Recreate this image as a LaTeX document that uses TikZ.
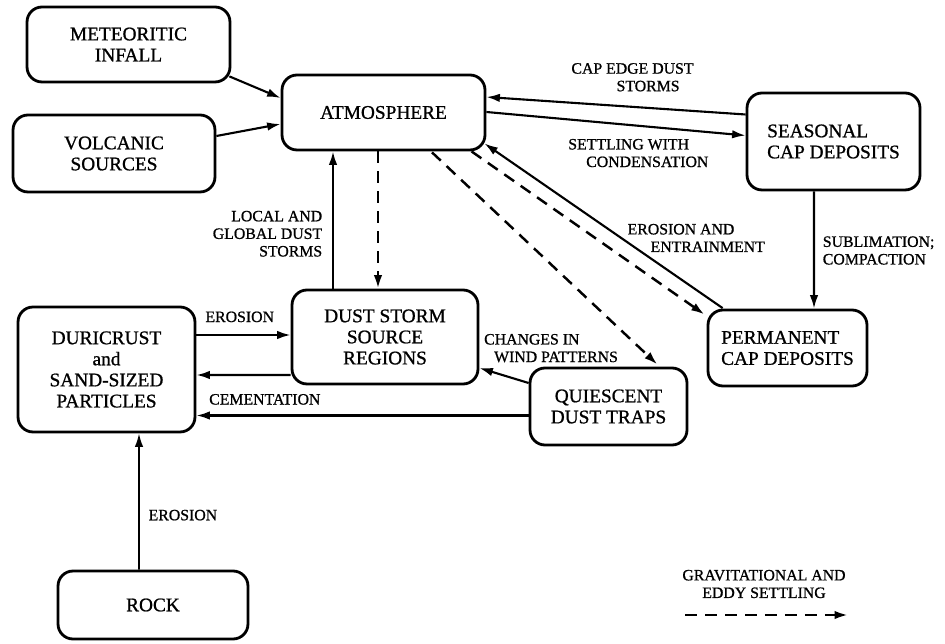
\documentclass[tikz,border=0pt]{standalone}
\usepackage{fontspec}
\setmainfont[FakeBold=0.9]{Liberation Serif}
\usetikzlibrary{arrows.meta, positioning}

\begin{document}
\begin{tikzpicture}[
    x=0.02cm, y=-0.02cm,
    box/.style={draw, line width=1.6pt, rounded corners=3mm, align=center, inner sep=0pt, font=\fontsize{11}{12}\selectfont},
    lbl/.style={font=\fontsize{9}{10}\selectfont, inner sep=1pt},
    arrow/.style={-{Latex[length=2.7mm, width=1.7mm]}, line width=1.2pt},
    settle/.style={arrow, line width=1.4pt, dash pattern=on 2.4mm off 1.6mm}
]
    \useasboundingbox (0,0) rectangle (945,644);

    % Boxes
    \node[box, minimum width=4.06cm, minimum height=1.5cm] (meteor) at (128.5,44.5) {METEORITIC\\INFALL};
    \node[box, minimum width=4.04cm, minimum height=1.54cm] (volcanic) at (114,153.5) {VOLCANIC\\SOURCES};
    \node[box, minimum width=4.06cm, minimum height=1.5cm] (atmos) at (383.5,112.5) {ATMOSPHERE};
    \node[box, align=left, minimum width=3.46cm, minimum height=1.94cm] (seasonal) at (833.5,141.5) {SEASONAL\\CAP DEPOSITS};
    \node[box, align=left, minimum width=3.18cm, minimum height=1.52cm] (permanent) at (787.5,348) {PERMANENT\\CAP DEPOSITS};
    \node[box, minimum width=3.72cm, minimum height=1.88cm] (dust) at (385,337) {DUST STORM\\SOURCE\\REGIONS};
    \node[box, minimum width=3.54cm, minimum height=2.5cm] (duricrust) at (106.5,369.5) {DURICRUST\\and\\SAND-SIZED\\PARTICLES};
    \node[box, minimum width=3.14cm, minimum height=1.54cm] (quiescent) at (608.5,406.5) {QUIESCENT\\DUST TRAPS};
    \node[box, minimum width=3.8cm, minimum height=1.36cm] (rock) at (153,605) {ROCK};

    % Sources into the atmosphere
    \draw[arrow] ([shift={(-2,-7)}]meteor.south east) -- ([shift={(0,-14.5)}]atmos.west);
    \draw[arrow] ([shift={(0,-17.5)}]volcanic.east) -- ([shift={(0,11.5)}]atmos.west);

    % Atmosphere and the caps
    \draw[arrow] ([shift={(0,-27)}]seasonal.west) -- node[lbl, pos=0.19, anchor=south east, yshift=0.34cm, align=right] {CAP EDGE DUST\\STORMS\hspace*{0.28cm}} ([shift={(0,-15.5)}]atmos.east);
    \draw[arrow] ([shift={(0,-0.5)}]atmos.east) -- node[lbl, pos=0.305, anchor=north west, yshift=-0.34cm, align=left] {SETTLING WITH\\\hspace*{0.36cm}CONDENSATION} ([shift={(0,-6)}]seasonal.west);
    \draw[arrow] ([shift={(16,-0.5)}]permanent.north west) -- node[lbl, pos=0.528, anchor=north west, xshift=0.56cm, align=left] {EROSION AND\\\hspace*{0.46cm}ENTRAINMENT} ([shift={(-2,-8)}]atmos.south east);
    \draw[arrow] ([shift={(-19.5,0)}]seasonal.south) -- node[lbl, pos=0.36, anchor=north west, xshift=0.12cm, align=left] {SUBLIMATION;\\COMPACTION} ([shift={(26.5,0)}]permanent.north);

    % Atmosphere and the dust storm regions
    \draw[arrow] ([shift={(-52,0)}]dust.north) -- node[lbl, pos=0.4, left=0.16cm, align=right] {LOCAL AND\\GLOBAL DUST\\STORMS} ([shift={(-50.5,0)}]atmos.south);
    \draw[settle] ([shift={(-5.5,0)}]atmos.south) -- ([shift={(-7,0)}]dust.north);
    \draw[settle] ([shift={(48.5,1)}]atmos.south) -- ([shift={(49,-2)}]quiescent.north);
    \draw[settle] ([shift={(88,0)}]atmos.south) -- ([shift={(-2,6)}]permanent.north west);

    % Surface exchanges
    \draw[arrow] ([shift={(0,-34.5)}]duricrust.east) -- node[lbl, pos=0.46, above=0.2cm] {EROSION} ([shift={(0,-2)}]dust.west);
    \draw[arrow] ([shift={(0,38)}]dust.west) -- ([shift={(0,5.5)}]duricrust.east);
    \draw[arrow] ([shift={(0,9)}]quiescent.west) -- node[lbl, pos=0.794, above=0.16cm] {CEMENTATION} ([shift={(0,46)}]duricrust.east);
    \draw[arrow] ([shift={(0,-23.5)}]quiescent.west) -- node[lbl, pos=0.96, anchor=south west, yshift=0.07cm, align=left] {CHANGES IN\\\hspace*{0.2cm}WIND PATTERNS} ([shift={(0,31)}]dust.east);
    \draw[arrow, line width=1pt] ([shift={(-14,0)}]rock.north) -- node[lbl, pos=0.4, right=0.14cm] {EROSION} ([shift={(32.5,0)}]duricrust.south);

    % Legend
    \node[lbl, align=center] (legendlbl) at (764,584) {GRAVITATIONAL AND\\EDDY SETTLING};
    \coordinate (legstart) at (685,615);
    \coordinate (legendend) at (848,615);
    \draw[settle] (legstart) -- (legendend);
\end{tikzpicture}
\end{document}
